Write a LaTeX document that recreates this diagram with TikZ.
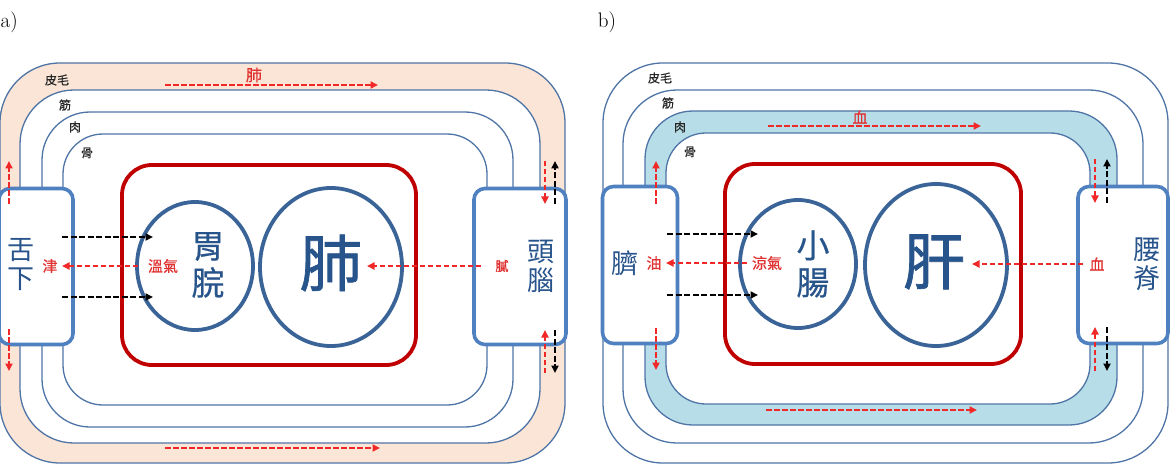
\documentclass[tikz,border=0pt]{standalone}
\usepackage{fontspec}
\newfontfamily\cjk{Noto Sans CJK TC}
\newfontfamily\cjkmed[FakeBold=1.2]{Noto Sans CJK TC}
\newfontfamily\cjksemi[FakeBold=0.6]{Noto Sans CJK TC}
\usetikzlibrary{arrows.meta,shapes.geometric}
\definecolor{ringc}{HTML}{4F74A6}
\definecolor{boxc}{HTML}{4F80C0}
\definecolor{circc}{HTML}{3A6497}
\definecolor{redc}{HTML}{C00000}
\definecolor{txtc}{HTML}{28548C}
\definecolor{rdash}{HTML}{F02828}
\definecolor{rtxt}{HTML}{E03030}
\definecolor{peach}{HTML}{FBE5D6}
\definecolor{lblue}{HTML}{B7DEE8}
\tikzset{
  ring/.style={draw=ringc, line width=1.3pt},
  organbox/.style={draw=boxc, line width=3.6pt, fill=white, rounded corners=11pt, inner sep=0pt},
  organ/.style={draw=circc, line width=3.8pt, ellipse},
  redbox/.style={draw=redc, line width=3.8pt, rounded corners=30pt},
  rarr/.style={draw=rdash, line width=2.4pt, dash pattern=on 5.5pt off 2.5pt, -{Triangle[length=7.5pt,width=7pt]}},
  barr/.style={draw=black, line width=2.5pt, dash pattern=on 6pt off 2.5pt, -{Triangle[length=7.5pt,width=7pt]}},
  bigtxt/.style={text=txtc, font=\cjk\fontsize{27}{30}\selectfont, inner sep=0pt, align=center},
  organtxt/.style={text=txtc, font=\cjksemi\fontsize{33}{40}\selectfont, inner sep=0pt, align=center},
  hugetxt/.style={text=txtc, font=\cjkmed\fontsize{62}{62}\selectfont, inner sep=0pt},
  layertxt/.style={text=black!85, font=\cjksemi\fontsize{12}{12}\selectfont, inner sep=0pt},
  redtxt/.style={text=rtxt, font=\cjksemi\fontsize{15}{15}\selectfont, inner sep=0pt},
  paneltxt/.style={font=\fontsize{21}{21}\selectfont, inner sep=0pt}
}
\begin{document}
\begin{tikzpicture}[x=1pt,y=-1pt]
\useasboundingbox (0,0) rectangle (1172,465);
\node[paneltxt, anchor=west] (la) at (0.5,22) {a)};
\node[paneltxt] (lb) at (607,22) {b)};
% ================= panel a =================
\begin{scope}
  \fill[peach, rounded corners=60pt] (0,63) rectangle (565,463);
  \fill[white, rounded corners=54pt] (20,90) rectangle (540,443);
  \draw[ring, rounded corners=60pt] (0,63) rectangle (565,463);
  \draw[ring, rounded corners=54pt] (20,90) rectangle (540,443);
  \draw[ring, rounded corners=48pt] (42,112) rectangle (513,427);
  \draw[ring, rounded corners=40pt] (63,134) rectangle (487,405);
  \draw[redbox] (122,165) rectangle (416,365);
  \node[organ, minimum width=116pt, minimum height=128pt] (weiwan) at (195,266) {};
  \node[organ, minimum width=142pt, minimum height=158pt] (fei) at (331,267) {};
  \node[organbox, minimum width=74pt, minimum height=156pt] (shexiabox) at (36,266.5) {};
  \node[organbox, minimum width=92pt, minimum height=156pt] (tounaobox) at (520,266.5) {};
  \node[bigtxt] (shexia) at (21,265) {舌\\[-1pt]下};
  \node[bigtxt] (tounao) at (541,266) {頭\\[-1pt]腦};
  \node[organtxt] (weiwantxt) at (208,265) {胃\\[-3pt]脘};
  \node[hugetxt] (feitxt) at (331,263) {肺};
  \node[layertxt] (pimao) at (57,80) {皮毛};
  \node[layertxt] (jinA) at (65,105) {筋};
  \node[layertxt] (rouA) at (75,127) {肉};
  \node[layertxt] (guA) at (87,153) {骨};
  \node[redtxt, font=\cjksemi\fontsize{16}{16}\selectfont] (feired) at (254,75) {肺};
  \node[redtxt] (jinye) at (50,266) {津};
  \node[redtxt] (wenqi) at (163,266) {溫氣};
  \node[redtxt, font=\cjksemi\fontsize{13}{13}\selectfont] (ni) at (502,266) {膩};
  % horizontal arrows
  \coordinate (aTopS) at (165,85); \coordinate (aTopE) at (378,85);
  \draw[rarr] (aTopS) -- (aTopE);
  \coordinate (aBotS) at (165,448); \coordinate (aBotE) at (380,448);
  \draw[rarr] (aBotS) -- (aBotE);
  \coordinate (aInS) at (138,266); \coordinate (aInE) at (62,266);
  \draw[rarr] (aInS) -- (aInE);
  \coordinate (aNiS) at (481,266); \coordinate (aNiE) at (367,266);
  \draw[rarr] (aNiS) -- (aNiE);
  \coordinate (aB1S) at (62,237); \coordinate (aB1E) at (153,237);
  \draw[barr] (aB1S) -- (aB1E);
  \coordinate (aB2S) at (62,297); \coordinate (aB2E) at (153,297);
  \draw[barr] (aB2S) -- (aB2E);
  % vertical arrows
  \coordinate (aLuS) at (9,204); \coordinate (aLuE) at (9,161);
  \draw[rarr] (aLuS) -- (aLuE);
  \coordinate (aLdS) at (9,329); \coordinate (aLdE) at (9,371);
  \draw[rarr] (aLdS) -- (aLdE);
  \coordinate (aRurS) at (545,161); \coordinate (aRurE) at (545,204);
  \draw[rarr] (aRurS) -- (aRurE);
  \coordinate (aRubS) at (555,204); \coordinate (aRubE) at (555,161);
  \draw[barr] (aRubS) -- (aRubE);
  \coordinate (aRdrS) at (545,373); \coordinate (aRdrE) at (545,330);
  \draw[rarr] (aRdrS) -- (aRdrE);
  \coordinate (aRdbS) at (555,330); \coordinate (aRdbE) at (555,373);
  \draw[barr] (aRdbS) -- (aRdbE);
\end{scope}
% ================= panel b =================
\begin{scope}[xshift=603pt]
  \draw[ring, rounded corners=60pt] (0,63) rectangle (565,463);
  \draw[ring, rounded corners=54pt] (20,90) rectangle (540,443);
  \fill[lblue, rounded corners=48pt] (42,111) rectangle (514,425);
  \fill[white, rounded corners=40pt] (63,133) rectangle (487,404);
  \draw[ring, rounded corners=48pt] (42,111) rectangle (514,425);
  \draw[ring, rounded corners=40pt] (63,133) rectangle (487,404);
  \draw[redbox] (122,164) rectangle (418,364);
  \node[organ, minimum width=116pt, minimum height=128pt] (xiaochang) at (195,264) {};
  \node[organ, minimum width=142pt, minimum height=162pt] (gan) at (333,265) {};
  \node[organbox, minimum width=75pt, minimum height=157pt] (qibox) at (37,265) {};
  \node[organbox, minimum width=90pt, minimum height=157pt] (yaojibox) at (520,265) {};
  \node[bigtxt] (qi) at (22,263) {臍};
  \node[bigtxt] (yaoji) at (544,264) {腰\\[-1pt]脊};
  \node[organtxt] (xiaochangtxt) at (210,264) {小\\[-3pt]腸};
  \node[hugetxt] (gantxt) at (331,262) {肝};
  \node[layertxt] (pimaoB) at (57,78) {皮毛};
  \node[layertxt] (jinB) at (65,103) {筋};
  \node[layertxt] (rouB) at (77,127) {肉};
  \node[layertxt] (guB) at (87,152) {骨};
  \node[redtxt, font=\cjksemi\fontsize{15}{15}\selectfont] (xuered) at (257,117) {血};
  \node[redtxt] (you) at (51,263) {油};
  \node[redtxt] (liangqi) at (164,263) {涼氣};
  \node[redtxt] (xue) at (494,264) {血};
  % horizontal arrows
  \coordinate (bTopS) at (165,126); \coordinate (bTopE) at (378,126);
  \draw[rarr] (bTopS) -- (bTopE);
  \coordinate (bBotS) at (163,410); \coordinate (bBotE) at (374,410);
  \draw[rarr] (bBotS) -- (bBotE);
  \coordinate (bInS) at (144,263); \coordinate (bInE) at (63,263);
  \draw[rarr] (bInS) -- (bInE);
  \coordinate (bXueS) at (480,264); \coordinate (bXueE) at (369,264);
  \draw[rarr] (bXueS) -- (bXueE);
  \coordinate (bB1S) at (64,234); \coordinate (bB1E) at (155,234);
  \draw[barr] (bB1S) -- (bB1E);
  \coordinate (bB2S) at (64,295); \coordinate (bB2E) at (155,295);
  \draw[barr] (bB2S) -- (bB2E);
  % vertical arrows
  \coordinate (bLuS) at (53,204); \coordinate (bLuE) at (53,161);
  \draw[rarr] (bLuS) -- (bLuE);
  \coordinate (bLdS) at (53,328); \coordinate (bLdE) at (53,370);
  \draw[rarr] (bLdS) -- (bLdE);
  \coordinate (bRurS) at (492,159); \coordinate (bRurE) at (492,203);
  \draw[rarr] (bRurS) -- (bRurE);
  \coordinate (bRubS) at (504,203); \coordinate (bRubE) at (504,159);
  \draw[barr] (bRubS) -- (bRubE);
  \coordinate (bRdrS) at (492,371); \coordinate (bRdrE) at (492,327);
  \draw[rarr] (bRdrS) -- (bRdrE);
  \coordinate (bRdbS) at (504,327); \coordinate (bRdbE) at (504,371);
  \draw[barr] (bRdbS) -- (bRdbE);
\end{scope}
\end{tikzpicture}
\end{document}
